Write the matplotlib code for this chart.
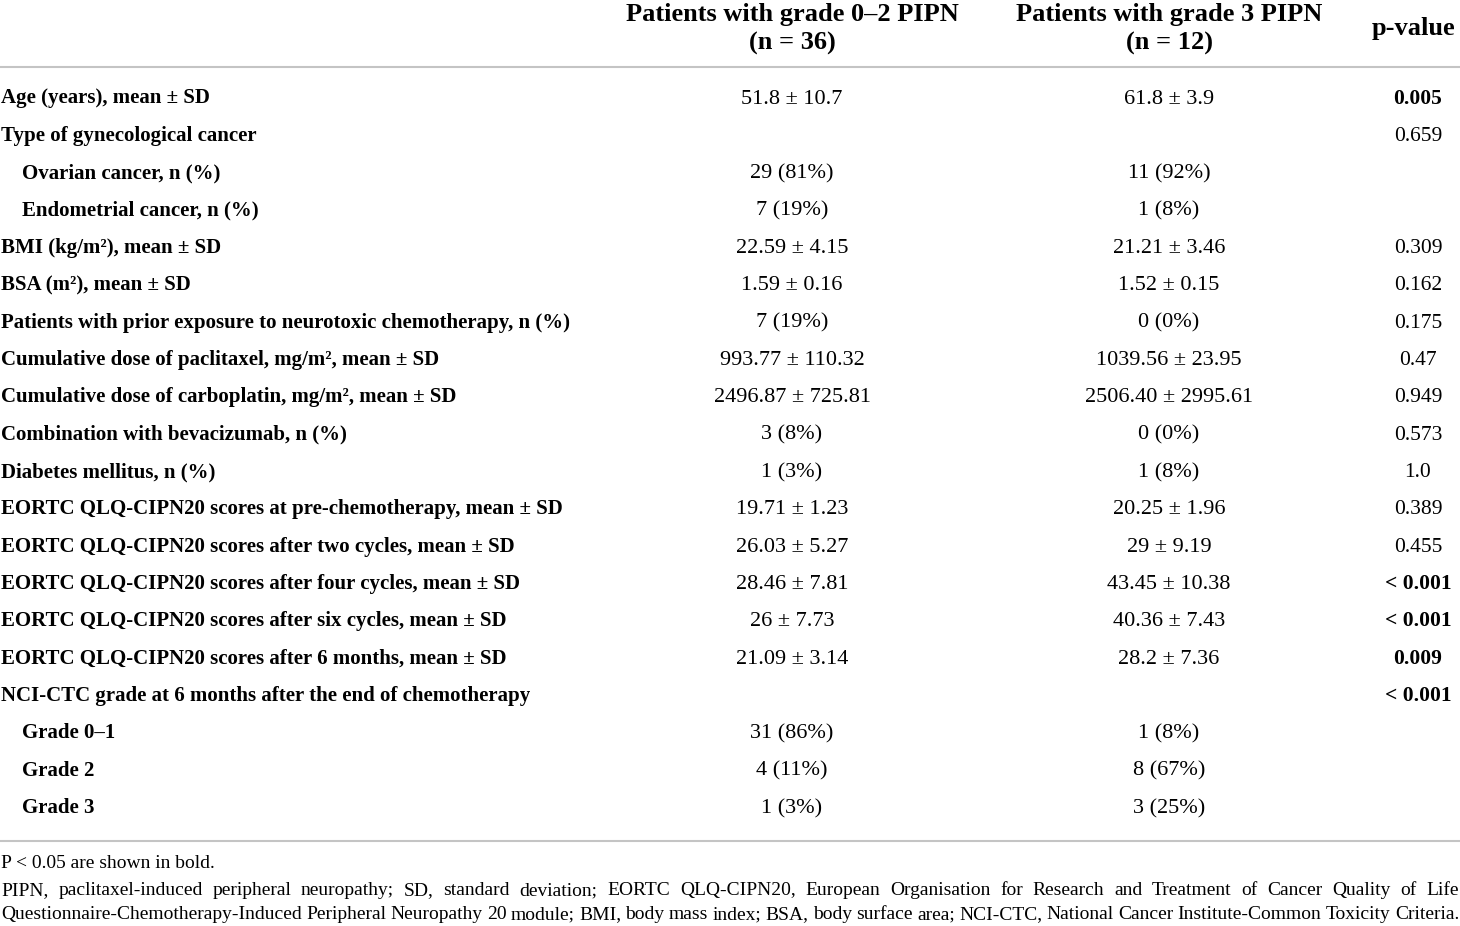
import matplotlib
matplotlib.use("Agg")
import matplotlib.pyplot as plt

plt.rcParams['font.family'] = 'Liberation Serif'

# table content
col_headers = ["Patients with grade 0\u20132 PIPN\n(n = 36)",
               "Patients with grade 3 PIPN\n(n = 12)",
               "p-value"]

row_labels = [
    "Age (years), mean \u00b1 SD",
    "Type of gynecological cancer",
    "Ovarian cancer, n (%)",
    "Endometrial cancer, n (%)",
    "BMI (kg/m\u00b2), mean \u00b1 SD",
    "BSA (m\u00b2), mean \u00b1 SD",
    "Patients with prior exposure to neurotoxic chemotherapy, n (%)",
    "Cumulative dose of paclitaxel, mg/m\u00b2, mean \u00b1 SD",
    "Cumulative dose of carboplatin, mg/m\u00b2, mean \u00b1 SD",
    "Combination with bevacizumab, n (%)",
    "Diabetes mellitus, n (%)",
    "EORTC QLQ-CIPN20 scores at pre-chemotherapy, mean \u00b1 SD",
    "EORTC QLQ-CIPN20 scores after two cycles, mean \u00b1 SD",
    "EORTC QLQ-CIPN20 scores after four cycles, mean \u00b1 SD",
    "EORTC QLQ-CIPN20 scores after six cycles, mean \u00b1 SD",
    "EORTC QLQ-CIPN20 scores after 6 months, mean \u00b1 SD",
    "NCI-CTC grade at 6 months after the end of chemotherapy",
    "Grade 0\u20131",
    "Grade 2",
    "Grade 3",
]
indented = [False, False, True, True, False, False, False, False, False, False,
            False, False, False, False, False, False, False, True, True, True]

grade02 = ["51.8 \u00b1 10.7", "", "29 (81%)", "7 (19%)", "22.59 \u00b1 4.15",
           "1.59 \u00b1 0.16", "7 (19%)", "993.77 \u00b1 110.32",
           "2496.87 \u00b1 725.81", "3 (8%)", "1 (3%)", "19.71 \u00b1 1.23",
           "26.03 \u00b1 5.27", "28.46 \u00b1 7.81", "26 \u00b1 7.73",
           "21.09 \u00b1 3.14", "", "31 (86%)", "4 (11%)", "1 (3%)"]
grade3 = ["61.8 \u00b1 3.9", "", "11 (92%)", "1 (8%)", "21.21 \u00b1 3.46",
          "1.52 \u00b1 0.15", "0 (0%)", "1039.56 \u00b1 23.95",
          "2506.40 \u00b1 2995.61", "0 (0%)", "1 (8%)", "20.25 \u00b1 1.96",
          "29 \u00b1 9.19", "43.45 \u00b1 10.38", "40.36 \u00b1 7.43",
          "28.2 \u00b1 7.36", "", "1 (8%)", "8 (67%)", "3 (25%)"]
p_values = ["0.005", "0.659", "", "", "0.309", "0.162", "0.175", "0.47",
            "0.949", "0.573", "1.0", "0.389", "0.455", "< 0.001", "< 0.001",
            "0.009", "< 0.001", "", "", ""]
p_bold = [True, False, False, False, False, False, False, False, False, False,
          False, False, False, True, True, True, True, False, False, False]

footnote1 = "P < 0.05 are shown in bold."
footnote2 = ("PIPN, paclitaxel-induced peripheral neuropathy; SD, standard deviation; "
             "EORTC QLQ-CIPN20, European Organisation for Research and Treatment of Cancer Quality of Life")
footnote3 = ("Questionnaire-Chemotherapy-Induced Peripheral Neuropathy 20 module; BMI, body mass index; "
             "BSA, body surface area; NCI-CTC, National Cancer Institute-Common Toxicity Criteria.")

W, H = 1460, 926
fig = plt.figure(figsize=(W / 100, H / 100), dpi=100)
ax = fig.add_axes([0, 0, 1, 1])
ax.set_xlim(0, W)
ax.set_ylim(H, 0)
ax.axis('off')

label_fs = 15
val_fs = 16
p_fs = 15.5
col_x = [792, 1169, 1414]

# header
for x, h in zip(col_x, col_headers):
    ax.text(x, 29, h, ha='center', va='center', fontsize=19, fontweight='bold',
            linespacing=1.3)

ax.axhline(67, color='#c4c4c4', lw=1.5)
ax.axhline(841, color='#c4c4c4', lw=1.5)

row_y0, row_dy = 97, 37.35
for i, lab in enumerate(row_labels):
    yb = row_y0 + i * row_dy + 6.5
    ax.text(22 if indented[i] else 1, yb, lab, ha='left', va='baseline',
            fontsize=label_fs, fontweight='bold')
    ax.text(col_x[0], yb, grade02[i], ha='center', va='baseline', fontsize=val_fs)
    ax.text(col_x[1], yb, grade3[i], ha='center', va='baseline', fontsize=val_fs)
    ax.text(col_x[2] + 4, yb, p_values[i], ha='center', va='baseline', fontsize=p_fs,
            fontweight='bold' if p_bold[i] else 'normal')

# footnotes
fn_fs = 14
ax.text(1, 868, footnote1, ha='left', va='baseline', fontsize=fn_fs)

renderer = fig.canvas.get_renderer()


def justify(line, y, x0=1, x1=W - 1):
    words = line.split(" ")
    arts = [ax.text(0, y, w, ha='left', va='baseline', fontsize=fn_fs) for w in words]
    widths = [a.get_window_extent(renderer=renderer).width for a in arts]
    gap = (x1 - x0 - sum(widths)) / (len(words) - 1)
    x = x0
    for a, w in zip(arts, widths):
        a.set_x(x)
        x += w + gap


justify(footnote2, 895)
justify(footnote3, 919)

fig.savefig("out.png", dpi=100)
